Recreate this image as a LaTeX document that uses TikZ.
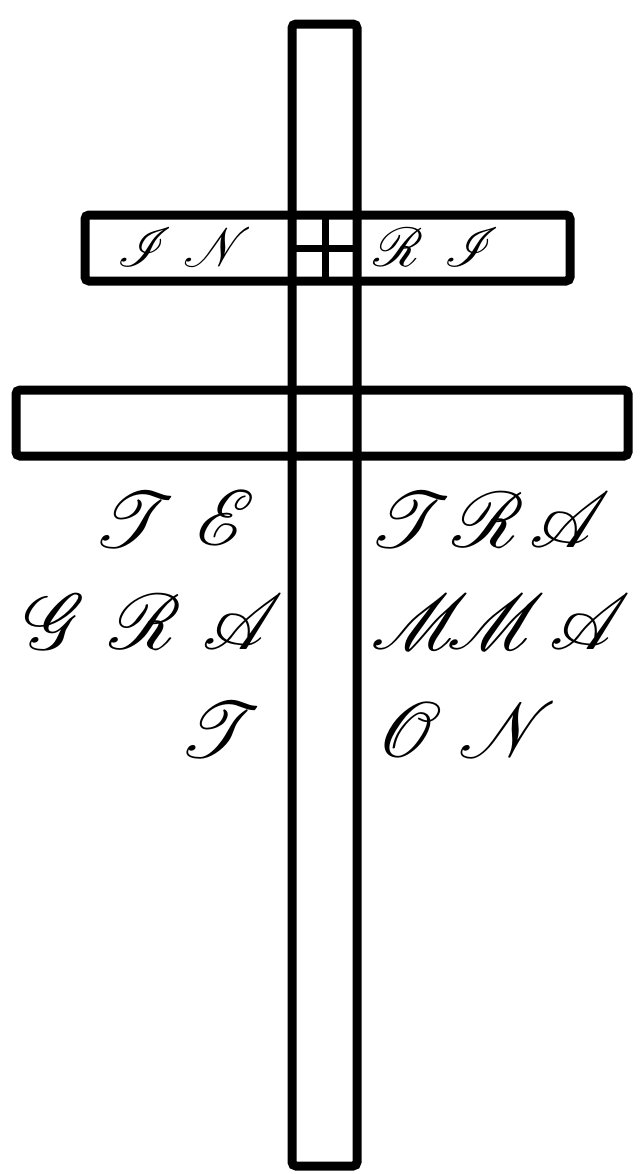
\documentclass[tikz,border=0pt]{standalone}
\usepackage{mathrsfs}

\begin{document}
\begin{tikzpicture}[
        x=0.5pt, y=-0.5pt,
        beam/.style={
            draw,
            line width=4.5pt,
            rounded corners=2pt
        },
        grid/.style={
            draw,
            line width=3.5pt
        },
        letter/.style={
            inner sep=0pt,
            font=\Huge,
            scale=1.58
        },
        smallletter/.style={
            inner sep=0pt,
            font=\Huge,
            scale=1.1
        }
    ]

        \useasboundingbox (0,0) rectangle (641,1174);

        % cross
        \draw[beam] (292,24) rectangle (357,1166);
        \draw[beam] (85,215) rectangle (570,281);
        \draw[beam] (16,390) rectangle (628,456);
        \draw[grid] (325,215) -- (325,281);
        \draw[grid] (292,248) -- (357,248);

        % title board
        \node[smallletter] (ti1) at (145,247) {$\mathscr{I}$};
        \node[smallletter] (tn) at (218,247) {$\mathscr{N}$};
        \node[smallletter] (tr) at (398,247) {$\mathscr{R}$};
        \node[smallletter] (ti2) at (472,247) {$\mathscr{I}$};

        % left side
        \node[letter] (lt1) at (134,520) {$\mathscr{T}$};
        \node[letter] (le) at (226,518) {$\mathscr{E}$};
        \node[letter] (lg) at (55,622) {$\mathscr{G}$};
        \node[letter] (lr) at (145,622) {$\mathscr{R}$};
        \node[letter] (la) at (243,622) {$\mathscr{A}$};
        \node[letter] (lt2) at (220,730) {$\mathscr{T}$};

        % right side
        \node[letter] (rt) at (410,520) {$\mathscr{T}$};
        \node[letter] (rr) at (488,520) {$\mathscr{R}$};
        \node[letter] (ra1) at (570,520) {$\mathscr{A}$};
        \node[letter] (rm1) at (420,622) {$\mathscr{M}$};
        \node[letter] (rm2) at (496,622) {$\mathscr{M}$};
        \node[letter] (ra2) at (590,622) {$\mathscr{A}$};
        \node[letter] (ro) at (410,730) {$\mathscr{O}$};
        \node[letter] (rn) at (508,730) {$\mathscr{N}$};

    \end{tikzpicture}
\end{document}
